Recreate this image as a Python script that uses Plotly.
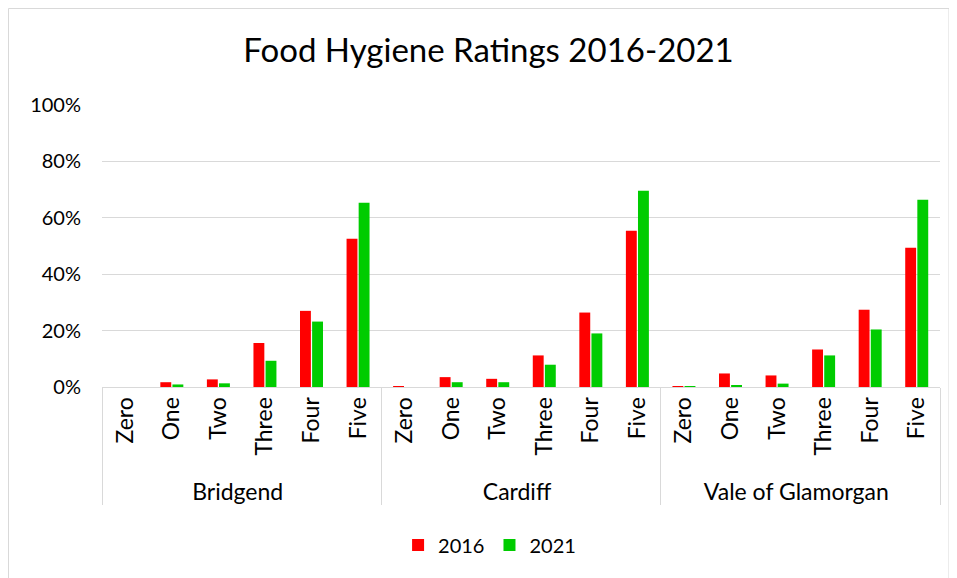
import plotly.graph_objects as go

areas = ["Bridgend", "Cardiff", "Vale of Glamorgan"]
ratings = ["Zero", "One", "Two", "Three", "Four", "Five"]
vals_2016 = [0.000, 0.017, 0.027, 0.156, 0.270, 0.526,
             0.002, 0.035, 0.029, 0.112, 0.264, 0.554,
             0.002, 0.048, 0.041, 0.133, 0.274, 0.494]
vals_2021 = [0.000, 0.009, 0.013, 0.093, 0.232, 0.653,
             0.000, 0.017, 0.017, 0.079, 0.190, 0.696,
             0.001, 0.005, 0.012, 0.112, 0.204, 0.664]
y_ticks = [0, 0.2, 0.4, 0.6, 0.8, 1.0]

outer = [a for a in areas for _ in ratings]
inner = [r for _ in areas for r in ratings]

fig = go.Figure()
fig.add_trace(go.Bar(x=[outer, inner], y=vals_2016, name="2016",
                     marker=dict(color="#ff0000", line=dict(width=0))))
fig.add_trace(go.Bar(x=[outer, inner], y=vals_2021, name="2021",
                     marker=dict(color="#00cc00", line=dict(width=0))))

W, H = 949, 570
fig.update_layout(
    width=W, height=H,
    paper_bgcolor="white", plot_bgcolor="white",
    margin=dict(l=94, r=17, t=97, b=191),
    title=dict(text="Food Hygiene Ratings 2016-2021", x=480.5 / W, xanchor="center",
               y=1 - 42 / H, yanchor="middle",
               font=dict(family="Lato", size=33, color="#000000")),
    bargap=0.48, bargroupgap=0.1,
    font=dict(family="Lato", color="#000000"),
    legend=dict(orientation="h", x=0.4625, xanchor="center", y=-0.56, yanchor="middle",
                font=dict(size=20, color="#000000"), itemwidth=30),
    shapes=[dict(type="rect", xref="paper", yref="paper",
                 x0=-93.5/838, x1=(941-94)/838, y0=-(H - 97 - 282 + 5)/282,
                 y1=(379 - 0.5)/282,
                 line=dict(color="#d9d9d9", width=1))],
)
fig.update_yaxes(range=[0, 1], tickvals=y_ticks, tickformat=".0%",
                 showgrid=True, gridcolor="#d9d9d9", gridwidth=1,
                 zeroline=False, showline=False, automargin=False,
                 tickfont=dict(size=20, color="#000000"), ticks="",
                 ticklabelstandoff=20)
fig.update_xaxes(type="multicategory", tickangle=-90, showline=True,
                 linecolor="#d9d9d9", linewidth=1, showdividers=True,
                 dividercolor="#d9d9d9", automargin=False,
                 dividerwidth=1, tickfont=dict(size=23, color="#000000"),
                 ticks="outside", ticklen=6, tickcolor="rgba(0,0,0,0)")

fig.write_html("out.html")
